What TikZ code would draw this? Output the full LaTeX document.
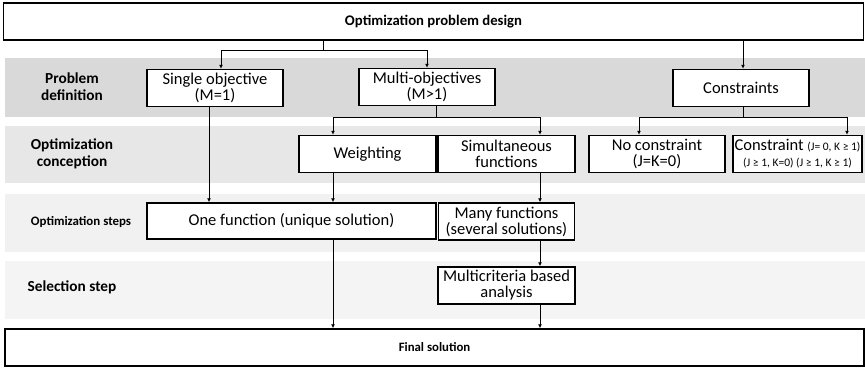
\documentclass[tikz,border=0pt]{standalone}
\usepackage{fontspec}
\setmainfont{Carlito}
\usetikzlibrary{arrows.meta}
\definecolor{bandA}{HTML}{D9D9D9}
\definecolor{bandB}{HTML}{E7E7E7}
\definecolor{bandC}{HTML}{F1F1F1}
\definecolor{bandD}{HTML}{F4F4F4}
\begin{document}
\begin{tikzpicture}[x=1pt,y=-1pt,
  box/.style={draw,line width=1.5pt,fill=white,align=center,inner sep=0pt,minimum height=37pt,font=\fontsize{16.5}{16}\selectfont},
  arr/.style={-{Latex[length=4pt,width=4pt]},line width=0.8pt},
  lab/.style={align=center,font=\bfseries\fontsize{15.3}{17}\selectfont}]
\useasboundingbox (0,0) rectangle (865,367);
\fill[bandA] (5,58) rectangle (865,117);
\fill[bandB] (5,126) rectangle (865,183);
\fill[bandC] (5,194) rectangle (865,252);
\fill[bandD] (5,261) rectangle (865,319);
\node[lab] (pdef) at (72,87) {Problem\\definition};
\node[lab] (ocon) at (72,154) {Optimization\\conception};
\node[lab,font=\bfseries\fontsize{12.9}{16}\selectfont] (ostep) at (81,222) {Optimization steps};
\node[lab] (sstep) at (72,287) {Selection step};
\node[box,minimum width=860pt,font=\bfseries\fontsize{14.7}{15}\selectfont] (design) at (433.5,21.5) {Optimization problem design};
\node[box,minimum width=136pt] (single) at (215,88) {Single objective\\(M=1)};
\node[box,minimum width=136pt] (multi) at (427,87) {Multi-objectives\\(M>1)};
\node[box,minimum width=136pt] (constr) at (741,88) {Constraints};
\node[box,minimum width=137pt] (weight) at (367.5,154) {Weighting};
\node[box,minimum width=137pt] (simul) at (506.5,154) {Simultaneous\\functions};
\node[box,minimum width=136pt] (nocon) at (657,154) {No constraint\\(J=K=0)};
\node[box,minimum width=129pt] (con) at (797.5,154) {Constraint {\fontsize{11.5}{16}\selectfont(J= 0, K ≥ 1)}\\{\fontsize{11.5}{16}\selectfont(J ≥ 1, K=0) (J ≥ 1, K ≥ 1)}};
\node[box,minimum width=289pt,minimum height=36pt] (one) at (291.5,221) {One function (unique solution)};
\node[box,minimum width=136pt] (many) at (506.5,221.5) {Many functions\\(several solutions)};
\node[box,minimum width=137pt] (mcrit) at (506.5,285.5) {Multicriteria based\\analysis};
\node[box,minimum width=859pt,font=\bfseries\fontsize{12.8}{15}\selectfont] (final) at (434.5,347.5) {Final solution};
\coordinate (xa) at (209,0);
\coordinate (xb) at (221,0);
\coordinate (xc) at (323,0);
\coordinate (xd) at (333,0);
\coordinate (xe) at (436,0);
\coordinate (xf) at (540,0);
\coordinate (xg) at (639,0);
\coordinate (xh) at (743,0);
\coordinate (xi) at (847,0);
\coordinate (ya) at (0,50);
\coordinate (yb) at (0,117);
\draw[line width=0.8pt] (design.south -| xc) -- (xc |- ya);
\draw[arr] (xc |- ya) -| (single.north -| xb);
\draw[arr] (xc |- ya) -| (multi.north);
\draw[arr] (design.south -| xh) -- (constr.north -| xh);
\draw[line width=0.8pt] (multi.south -| xe) -- (xe |- yb);
\draw[arr] (xe |- yb) -| (weight.north -| xd);
\draw[arr] (xe |- yb) -| (simul.north -| xf);
\draw[line width=0.8pt] (constr.south -| xh) -- (xh |- yb);
\draw[arr] (xh |- yb) -| (nocon.north -| xg);
\draw[arr] (xh |- yb) -| (con.north -| xi);
\draw[arr] (single.south -| xa) -- (one.north -| xa);
\draw[arr] (weight.south -| xd) -- (one.north -| xd);
\draw[arr] (one.south -| xd) -- (final.north -| xd);
\draw[arr] (simul.south -| xf) -- (many.north -| xf);
\draw[arr] (many.south -| xf) -- (mcrit.north -| xf);
\draw[arr] (mcrit.south -| xf) -- (final.north -| xf);
\end{tikzpicture}
\end{document}
